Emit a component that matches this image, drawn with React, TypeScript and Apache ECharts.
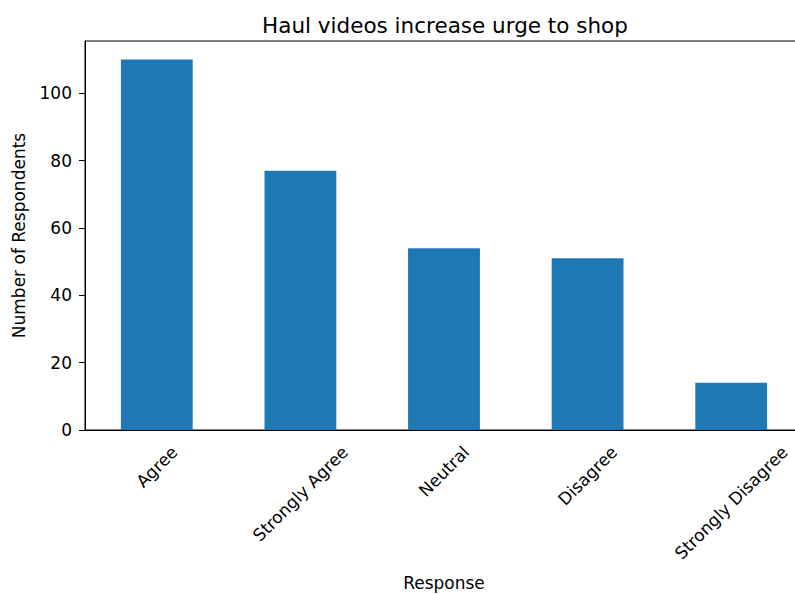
import React, { useEffect, useRef } from "react";
import * as echarts from "echarts";

const categories = ["Agree", "Strongly Agree", "Neutral", "Disagree", "Strongly Disagree"];
const respondents = [110, 77, 54, 51, 14];
const yTicks = [0, 20, 40, 60, 80, 100];

const FONT = "'DejaVu Sans', sans-serif";
const LABEL_SIZE = 17;

function measure(text: string, size: number): number {
  const c = document.createElement("canvas").getContext("2d");
  if (!c) return text.length * size * 0.6;
  c.font = `${size}px 'DejaVu Sans'`;
  return c.measureText(text).width;
}

export default function App() {
  const ref = useRef<HTMLDivElement>(null);
  useEffect(() => {
    if (!ref.current) return;
    const chart = echarts.init(ref.current, null, { renderer: "svg" });
    const lh = 20;
    // Emulate matplotlib's rotation=45, ha="center": the rotated label box is
    // centred under the tick and its top sits just below the tick.
    const catData = categories.map((c) => {
      const w = measure(c, LABEL_SIZE);
      const a = 0.25 * (w + lh);
      const right = 2 * a;
      const top = Math.max(0, a - lh / 2);
      return {
        value: c,
        textStyle: {
          align: "center",
          verticalAlign: "top",
          lineHeight: lh,
          padding: [top, right, 0, 0],
          fontFamily: FONT,
          fontSize: LABEL_SIZE,
          color: "#000",
        },
      };
    });
    chart.setOption({
      animation: false,
      backgroundColor: "#fff",
      title: {
        text: "Haul videos increase urge to shop",
        left: 440,
        textAlign: "center",
        top: 9,
        textStyle: { fontFamily: FONT, fontSize: 21.5, fontWeight: "normal", color: "#000" },
      },
      grid: {
        left: 85,
        top: 41,
        width: 718,
        height: 389,
        show: true,
        borderColor: "#000",
        borderWidth: 1,
        backgroundColor: "transparent",
        outerBoundsMode: "none",
        containLabel: false,
      },
      xAxis: {
        type: "category",
        data: catData,
        name: "Response",
        nameLocation: "middle",
        nameGap: 144,
        nameMoveOverlap: false,
        nameTextStyle: { fontFamily: FONT, fontSize: LABEL_SIZE, color: "#000" },
        axisLine: { lineStyle: { color: "#000", width: 1 } },
        axisTick: { alignWithLabel: true, length: 6, lineStyle: { color: "#000" } },
        axisLabel: {
          interval: 0,
          rotate: 45,
          align: "center",
          verticalAlign: "top",
          lineHeight: lh,
          margin: 12,
          hideOverlap: false,
          fontFamily: FONT,
          fontSize: LABEL_SIZE,
          color: "#000",
        },
        splitLine: { show: false },
      },
      yAxis: {
        type: "value",
        min: 0,
        max: 115.5,
        interval: 20,
        name: "Number of Respondents",
        nameLocation: "middle",
        nameGap: 58,
        nameMoveOverlap: false,
        nameTextStyle: { fontFamily: FONT, fontSize: LABEL_SIZE, color: "#000" },
        axisLine: { show: true, lineStyle: { color: "#000", width: 1 } },
        axisTick: { show: true, length: 6, lineStyle: { color: "#000" }, customValues: yTicks },
        axisLabel: {
          margin: 13,
          fontFamily: FONT,
          fontSize: LABEL_SIZE,
          color: "#000",
          customValues: yTicks,
        },
        splitLine: { show: false },
      },
      series: [
        {
          type: "bar",
          data: respondents,
          barWidth: "50%",
          itemStyle: { color: "#1f77b4" },
        },
      ],
    });
    return () => chart.dispose();
  }, []);
  return (
    <div
      ref={ref}
      style={{ position: "fixed", left: 0, top: 0, width: 795, height: 594 }}
    />
  );
}
